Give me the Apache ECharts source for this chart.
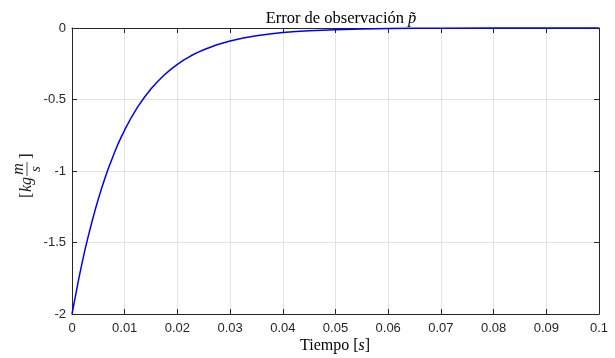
<!DOCTYPE html>
<html>
<head>
    <meta charset="UTF-8">
    <title>Error de observación</title>
    <script src="https://cdn.jsdelivr.net/npm/echarts@6/dist/echarts.min.js"></script>
    <style>
        html, body { margin: 0; padding: 0; background: #fff; }
    </style>
</head>
<body>
<div id="chart" style="width: 615px; height: 358px;"></div>

<script>
    // values
    const tiempo = [0, 0.000625, 0.00125, 0.001875, 0.0025, 0.003125, 0.00375, 0.004375,
        0.005, 0.005625, 0.00625, 0.006875, 0.0075, 0.008125, 0.00875, 0.009375,
        0.01, 0.01125, 0.0125, 0.01375, 0.015, 0.01625, 0.0175, 0.01875,
        0.02, 0.02125, 0.0225, 0.02375, 0.025, 0.0275, 0.03, 0.0325, 0.035, 0.0375,
        0.04, 0.0425, 0.045, 0.0475, 0.05, 0.055, 0.06, 0.065, 0.07, 0.08, 0.09, 0.1];
    const error = [-2, -1.88, -1.76, -1.65, -1.545, -1.45, -1.36, -1.275,
        -1.195, -1.12, -1.05, -0.985, -0.925, -0.865, -0.81, -0.76,
        -0.713, -0.626, -0.55, -0.484, -0.425, -0.374, -0.329, -0.289,
        -0.254, -0.223, -0.196, -0.172, -0.152, -0.117, -0.091, -0.07, -0.054, -0.042,
        -0.032, -0.025, -0.019, -0.015, -0.0115, -0.007, -0.004, -0.0025, -0.0015, -0.0005, -0.0002, -0.0001];
    const xTicks = [0, 0.01, 0.02, 0.03, 0.04, 0.05, 0.06, 0.07, 0.08, 0.09, 0.1];
    const yTicks = [-2, -1.5, -1, -0.5, 0];

    const axisColor = '#262626';
    const gridColor = '#e3e3e3';
    const tickFont = 'Liberation Sans';
    const texFont = 'Liberation Serif';

    const chart = echarts.init(document.getElementById('chart'), null, {renderer: 'canvas'});

    function xAxisDef(pos, showLabel) {
        return {
            type: 'value',
            position: pos,
            min: xTicks[0],
            max: xTicks[xTicks.length - 1],
            interval: xTicks[1] - xTicks[0],
            axisLine: {show: true, onZero: false, lineStyle: {color: axisColor, width: 1}},
            axisTick: {show: true, inside: true, length: 5, lineStyle: {color: axisColor}},
            axisLabel: {
                show: showLabel, margin: 8, color: axisColor, fontFamily: tickFont, fontSize: 13,
                formatter: v => String(+v.toFixed(2))
            },
            splitLine: {show: showLabel, lineStyle: {color: gridColor, width: 1}}
        };
    }

    function yAxisDef(pos, showLabel) {
        return {
            type: 'value',
            position: pos,
            min: yTicks[0],
            max: yTicks[yTicks.length - 1],
            interval: yTicks[1] - yTicks[0],
            axisLine: {show: true, onZero: false, lineStyle: {color: axisColor, width: 1}},
            axisTick: {show: true, inside: true, length: 5, lineStyle: {color: axisColor}},
            axisLabel: {
                show: showLabel, margin: 6, color: axisColor, fontFamily: tickFont, fontSize: 13
            },
            splitLine: {show: showLabel, lineStyle: {color: gridColor, width: 1}}
        };
    }

    const option = {
        animation: false,
        backgroundColor: '#ffffff',
        title: {
            text: '{n|Error de observación }{i|p\u0303}',
            left: 336,
            textAlign: 'center',
            top: 5,
            textStyle: {
                fontWeight: 'normal',
                rich: {
                    n: {fontFamily: texFont, fontSize: 16.5, fontWeight: 'normal', color: '#000'},
                    i: {fontFamily: texFont, fontSize: 16.5, fontWeight: 'normal', fontStyle: 'italic', color: '#000'}
                }
            }
        },
        grid: {left: 72, top: 28, width: 527, height: 286, containLabel: false},
        xAxis: [xAxisDef('bottom', true), xAxisDef('top', false)],
        yAxis: [yAxisDef('left', true), yAxisDef('right', false)],
        graphic: [
            {
                type: 'text',
                left: 300,
                top: 338,
                style: {
                    text: '{n|Tiempo [}{i|s}{n|]}',
                    rich: {
                        n: {fontFamily: texFont, fontSize: 16, fill: '#000'},
                        i: {fontFamily: texFont, fontSize: 16, fontStyle: 'italic', fill: '#000'}
                    }
                }
            },
            {
                type: 'group',
                x: 27,
                y: 175,
                rotation: Math.PI / 2,
                children: [
                    {type: 'text', x: -23, y: 0, style: {text: '[', font: '17px ' + texFont, fill: '#222', verticalAlign: 'middle'}},
                    {type: 'text', x: -17, y: 0, style: {text: 'kg', font: 'italic 16px ' + texFont, fill: '#222', verticalAlign: 'middle'}},
                    {type: 'line', shape: {x1: -1, y1: 0, x2: 13, y2: 0}, style: {stroke: '#222', lineWidth: 0.8}},
                    {type: 'text', x: 6, y: -8, style: {text: 'm', font: 'italic 16px ' + texFont, fill: '#222', align: 'center', verticalAlign: 'middle'}},
                    {type: 'text', x: 6, y: 9, style: {text: 's', font: 'italic 15px ' + texFont, fill: '#222', align: 'center', verticalAlign: 'middle'}},
                    {type: 'text', x: 16, y: 0, style: {text: ']', font: '17px ' + texFont, fill: '#222', verticalAlign: 'middle'}}
                ]
            }
        ],
        series: [
            {
                type: 'line',
                data: tiempo.map((t, i) => [t, error[i]]),
                showSymbol: false,
                smooth: false,
                lineStyle: {color: '#0000ff', width: 1.5},
                clip: false
            }
        ]
    };

    chart.setOption(option);
</script>
</body>
</html>
